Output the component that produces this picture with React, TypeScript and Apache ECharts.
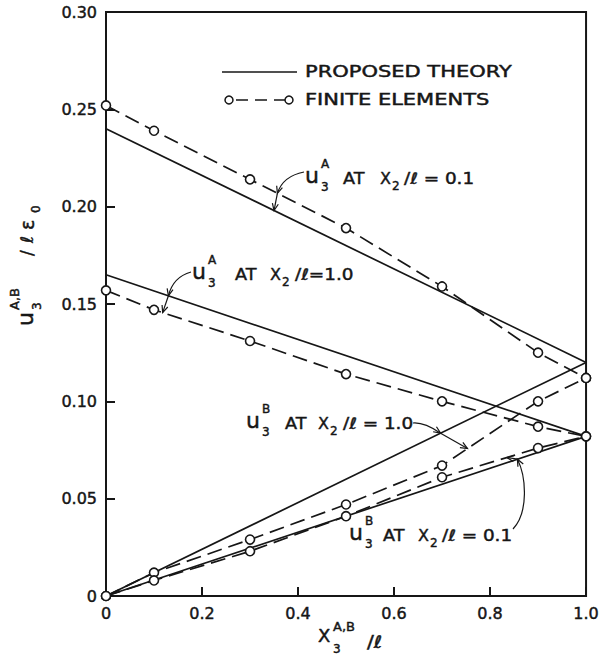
import React, { useEffect, useRef } from 'react';
import * as echarts from 'echarts';

// Non-dimensional coordinate along the crack face
const xFE = [0, 0.1, 0.3, 0.5, 0.7, 0.9, 1.0];
const xTheory = [0, 1.0];

// Finite element results (dashed with circles)
const feA01 = [0.252, 0.239, 0.214, 0.189, 0.159, 0.125, 0.112];
const feA10 = [0.157, 0.147, 0.131, 0.114, 0.1, 0.087, 0.082];
const feB10 = [0, 0.012, 0.029, 0.047, 0.067, 0.1, 0.112];
const feB01 = [0, 0.008, 0.023, 0.041, 0.061, 0.076, 0.082];

// Proposed theory (solid, straight lines)
const thA01 = [0.24, 0.12];
const thA10 = [0.165, 0.082];
const thB10 = [0, 0.12];
const thB01 = [0, 0.082];

const legendLabels = ['PROPOSED THEORY', 'FINITE ELEMENTS'];

const FONT = 'DejaVu Sans';
const INK = '#161616';

type Pt = [number, number];

function onLine(xs: number[], ys: number[], x: number): number {
  for (let i = 0; i < xs.length - 1; i++) {
    if (x >= xs[i] && x <= xs[i + 1]) {
      const t = (x - xs[i]) / (xs[i + 1] - xs[i]);
      return ys[i] + t * (ys[i + 1] - ys[i]);
    }
  }
  return ys[ys.length - 1];
}

function txt(x: number, y: number, text: string, size: number, extra: any = {}) {
  return {
    type: 'text',
    x,
    y,
    silent: true,
    ...extra,
    style: {
      text,
      fontSize: size,
      fontFamily: FONT,
      fill: INK,
      stroke: INK,
      lineWidth: 0.45,
      align: 'left',
      verticalAlign: 'middle',
      ...(extra.style || {}),
    },
  };
}

function head(tip: Pt, from: Pt, len = 7, w = 3) {
  const dx = tip[0] - from[0];
  const dy = tip[1] - from[1];
  const L = Math.hypot(dx, dy) || 1;
  const ux = dx / L;
  const uy = dy / L;
  const bx = tip[0] - ux * len;
  const by = tip[1] - uy * len;
  return {
    type: 'polyline',
    silent: true,
    shape: { points: [[bx - uy * w, by + ux * w], tip, [bx + uy * w, by - ux * w]] },
    style: { stroke: INK, lineWidth: 1.2, fill: 'none' },
  };
}

// Leader: curve from the label to the first line, straight on to the second
function leader(tail: Pt, cp: Pt, cross: Pt, tip: Pt, cp2?: Pt) {
  const shape: any = { x1: tail[0], y1: tail[1], x2: cross[0], y2: cross[1], cpx1: cp[0], cpy1: cp[1] };
  if (cp2) {
    shape.cpx2 = cp2[0];
    shape.cpy2 = cp2[1];
  }
  const last = cp2 || cp;
  return [
    { type: 'bezierCurve', silent: true, shape, style: { stroke: INK, lineWidth: 1.2, fill: 'none' } },
    { type: 'line', silent: true, shape: { x1: cross[0], y1: cross[1], x2: tip[0], y2: tip[1] }, style: { stroke: INK, lineWidth: 1.2 } },
    head(cross, last),
    head(tip, cross),
  ];
}

// "u3^A AT X2/l = 0.1" style label built from positioned pieces
function curveLabel(x0: number, yc: number, sup: string, rest: string, gaps: number[]) {
  const [gAT, gX, gRest] = gaps;
  return {
    type: 'group',
    x: x0,
    y: yc,
    silent: true,
    children: [
      txt(-1, -3, 'u', 22),
      txt(15, -14, sup, 12),
      txt(15, 9, '3', 12),
      txt(gAT, 0, 'AT', 16, { scaleX: 1.1 }),
      txt(gX, 0, 'X', 16),
      txt(gX + 12, 8, '2', 12),
      txt(gRest, 0, rest, 16, { scaleX: 1.15 }),
    ],
  };
}

export default function App() {
  const ref = useRef<HTMLDivElement>(null);

  useEffect(() => {
    if (!ref.current) return;
    const chart = echarts.init(ref.current, null, { renderer: 'svg' });

    const pairs = (xs: number[], ys: number[]) => xs.map((x, i) => [x, ys[i]]);
    const theory = (ys: number[]) => ({
      type: 'line',
      data: pairs(xTheory, ys),
      symbol: 'none',
      lineStyle: { color: INK, width: 1.7 },
      z: 2,
    });
    const fe = (ys: number[]) => ({
      type: 'line',
      data: pairs(xFE, ys),
      symbol: 'circle',
      symbolSize: 9,
      itemStyle: { color: '#fff', borderColor: INK, borderWidth: 1.6 },
      lineStyle: { color: INK, width: 1.7, type: [15, 7] },
      z: 3,
    });

    const axisCommon = {
      type: 'value',
      axisLine: { show: true, lineStyle: { color: INK, width: 2 } },
      axisTick: { show: true, inside: true, length: 9, lineStyle: { color: INK, width: 2 } },
      splitLine: { show: false },
    };
    const tickLabel = {
      color: INK,
      fontFamily: FONT,
      fontSize: 16,
      margin: 9,
      textBorderColor: INK,
      textBorderWidth: 0.45,
    };

    chart.setOption({
      animation: false,
      backgroundColor: '#fff',
      grid: { left: 106, right: 15, top: 12, bottom: 61, show: true, borderColor: INK, borderWidth: 2 },
      xAxis: {
        ...axisCommon,
        min: 0,
        max: 1,
        interval: 0.2,
        axisLabel: { ...tickLabel, formatter: (v: number) => (v === 0 ? '0' : v.toFixed(1)) },
      },
      yAxis: {
        ...axisCommon,
        min: 0,
        max: 0.3,
        interval: 0.05,
        axisLabel: { ...tickLabel, formatter: (v: number) => (v === 0 ? '0' : v.toFixed(2)) },
      },
      series: [
        theory(thA01),
        theory(thA10),
        theory(thB10),
        theory(thB01),
        fe(feA01),
        fe(feA10),
        fe(feB10),
        fe(feB01),
      ],
    });

    const px = (x: number, y: number): Pt => chart.convertToPixel({ gridIndex: 0 }, [x, y]) as Pt;

    const graphic: any[] = [];

    // Legend
    graphic.push({
      type: 'line',
      silent: true,
      shape: { x1: 222, y1: 72, x2: 297, y2: 72 },
      style: { stroke: INK, lineWidth: 1.7 },
    });
    graphic.push(txt(305, 72, legendLabels[0], 15, { scaleX: 1.4 }));
    graphic.push({
      type: 'line',
      silent: true,
      shape: { x1: 233, y1: 100, x2: 285, y2: 100 },
      style: { stroke: INK, lineWidth: 1.7, lineDash: [12, 7], lineDashOffset: -3 },
    });
    graphic.push({ type: 'circle', silent: true, shape: { cx: 229, cy: 100, r: 4 }, style: { fill: '#fff', stroke: INK, lineWidth: 1.5 } });
    graphic.push({ type: 'circle', silent: true, shape: { cx: 289, cy: 100, r: 4 }, style: { fill: '#fff', stroke: INK, lineWidth: 1.5 } });
    graphic.push(txt(305, 100, legendLabels[1], 15, { scaleX: 1.4 }));

    // Curve labels
    graphic.push(curveLabel(306, 178, 'A', '/ℓ = 0.1', [37, 74, 98]));
    graphic.push(curveLabel(193, 274, 'A', '/ℓ=1.0', [42, 77, 102]));
    graphic.push(curveLabel(247, 423, 'B', '/ℓ = 1.0', [38, 71, 96]));
    graphic.push(curveLabel(350, 535, 'B', '/ℓ = 0.1', [33, 68, 92]));

    // Leaders from the labels to their pairs of curves
    {
      const cross = px(0.357, onLine(xFE, feA01, 0.357));
      const tip = px(0.35, onLine(xTheory, thA01, 0.35));
      graphic.push(...leader([304, 172], [283, 176], cross, tip));
    }
    {
      const cross = px(0.13, onLine(xTheory, thA10, 0.13));
      const tip = px(0.118, onLine(xFE, feA10, 0.118));
      graphic.push(...leader([191, 272], [173, 277], cross, tip));
    }
    {
      const cross = px(0.697, onLine(xTheory, thB10, 0.697));
      const tip = px(0.753, onLine(xFE, feB10, 0.753));
      graphic.push(...leader([413, 423], [424, 422], cross, tip));
    }
    {
      const cross = px(0.857, onLine(xTheory, thB01, 0.857));
      const tip = px(0.835, onLine(xFE, feB01, 0.835));
      graphic.push(...leader([513, 529], [529, 512], cross, tip, [526, 476]));
    }

    // Axis titles
    graphic.push({
      type: 'group',
      x: 27,
      y: 326,
      rotation: Math.PI / 2,
      silent: true,
      children: [
        txt(0, -2, 'u', 22),
        txt(16, -13, 'A,B', 13),
        txt(16, 10, '3', 12),
        txt(70, 0, '/', 17),
        txt(83, 0, 'ℓ', 17),
        txt(96, 0, 'ε', 19),
        txt(113, 9, '0', 12),
      ],
    });
    graphic.push({
      type: 'group',
      x: 318,
      y: 635,
      silent: true,
      children: [
        txt(0, 0, 'X', 18),
        txt(15, -9, 'A,B', 13),
        txt(15, 14, '3', 12),
        txt(49, 7, '/ℓ', 17, { scaleX: 1.2 }),
      ],
    });

    chart.setOption({ graphic });

    return () => chart.dispose();
  }, []);

  return <div ref={ref} style={{ position: 'absolute', left: 0, top: 0, width: 602, height: 657 }} />;
}
